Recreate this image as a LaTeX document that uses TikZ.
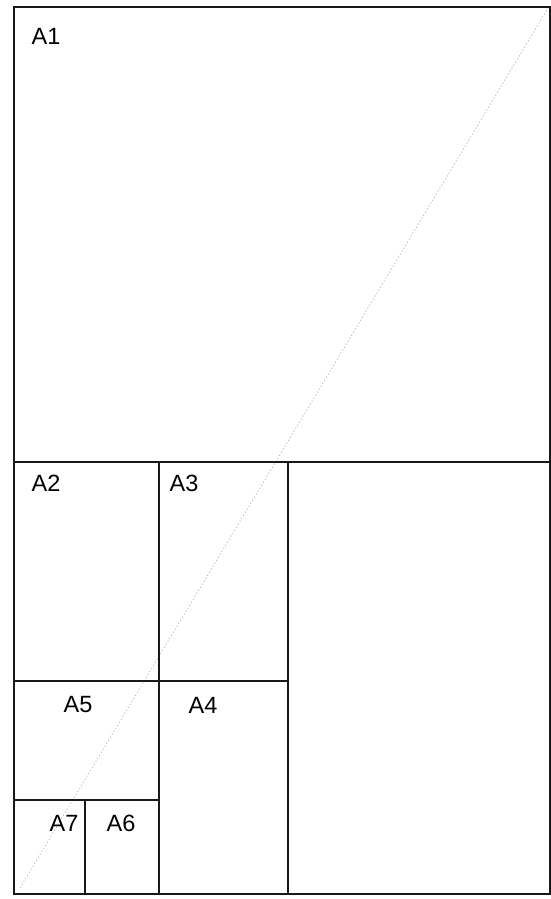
\documentclass[tikz,border=0pt]{standalone}
\usepackage{fontspec}
\setmainfont{Liberation Sans}
\begin{document}
\begin{tikzpicture}[x=1pt,y=-1pt,
  frame/.style={line width=1.8pt,draw=black!90},
  diag/.style={line width=0.5pt,draw=black!35,dash pattern=on 1.5pt off 2pt},
  lbl/.style={font=\fontsize{23.5}{26}\selectfont,inner sep=0pt,anchor=center}]
\useasboundingbox (0,0) rectangle (551,899);
\fill[white] (0,0) rectangle (551,899);
% corners
\coordinate (TL) at (14,7);
\coordinate (TR) at (550,7);
\coordinate (BL) at (14,894);
\coordinate (BR) at (550,894);
\coordinate (HL) at (14,462);
\coordinate (HR) at (550,462);
\coordinate (V1t) at (159,462);
\coordinate (V1b) at (159,894);
\coordinate (V2t) at (288,462);
\coordinate (V2b) at (288,894);
\coordinate (H2l) at (14,681);
\coordinate (H2r) at (288,681);
\coordinate (H3l) at (14,800);
\coordinate (H3r) at (159,800);
\coordinate (V3t) at (85,800);
\coordinate (V3b) at (85,894);
\coordinate (D1) at (20,888);
\coordinate (D2) at (548,8);
% diagonal
\draw[diag] (D1) -- (D2);
% frame
\draw[frame] (TL) rectangle (BR);
\draw[frame] (HL) -- (HR);
\draw[frame] (V1t) -- (V1b);
\draw[frame] (V2t) -- (V2b);
\draw[frame] (H2l) -- (H2r);
\draw[frame] (H3l) -- (H3r);
\draw[frame] (V3t) -- (V3b);
% labels
\node[lbl] (a1) at (46,36) {A1};
\node[lbl] (a2) at (46,483) {A2};
\node[lbl] (a3) at (184,483) {A3};
\node[lbl] (a5) at (78,705) {A5};
\node[lbl] (a4) at (203,705) {A4};
\node[lbl] (a7) at (64,823) {A7};
\node[lbl] (a6) at (121,823) {A6};
\end{tikzpicture}
\end{document}
